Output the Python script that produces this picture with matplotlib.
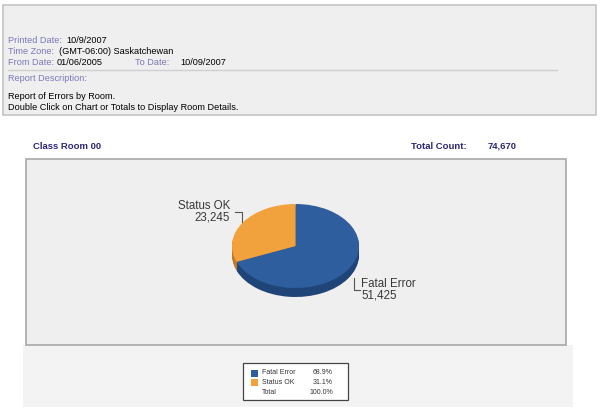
import matplotlib
matplotlib.use("Agg")
import matplotlib.pyplot as plt
from matplotlib.patches import Rectangle

plt.rcParams['font.family'] = ['Liberation Sans', 'DejaVu Sans']

# report data
room = "Class Room 00"
categories = ["Fatal Error", "Status OK"]
counts = [51425, 23245]
colors = ["#2f5e9e", "#f2a23c"]
side_colors = ["#1f4578", "#c07a25"]
header_labels = ["Printed Date:", "Time Zone:", "From Date:"]
header_values = ["10/9/2007", "(GMT-06:00) Saskatchewan", "01/06/2005"]
to_date = "10/09/2007"
description = ["Report of Errors by Room.",
               "Double Click on Chart or Totals to Display Room Details."]

total = sum(counts)
pcts = [100.0 * c / total for c in counts]

W, H = 605, 413
fig = plt.figure(figsize=(W / 100, H / 100), dpi=100)
fig.patch.set_facecolor("white")

# page axes in pixel coordinates
page = fig.add_axes([0, 0, 1, 1])
page.set_xlim(0, W)
page.set_ylim(H, 0)
page.axis("off")

lab_col = "#7a78b8"
navy = "#2b2777"
hdr = dict(fontsize=6.6, va="baseline")

# header box
page.add_patch(Rectangle((3, 5), 593, 110, fc="#efefef", ec="#c4c4c4", lw=1.2))
ys = [43, 54, 65]
xs = [66, 59, 57]
for y, lab, x, val in zip(ys, header_labels, xs, header_values):
    page.text(8, y, lab, color=lab_col, **hdr)
    page.text(x, y, val, color="black", **hdr)
page.text(135, 65, "To Date:", color=lab_col, **hdr)
page.text(180, 65, to_date, color="black", **hdr)
page.plot([8, 557], [69.5, 69.5], color="#cfcfcf", lw=1)
page.text(8, 81, "Report Description:", color=lab_col, **hdr)
page.text(8, 99, description[0], color="black", **hdr)
page.text(8, 110, description[1], color="black", **hdr)

# chart title row
ttl = dict(fontsize=6.8, color=navy, weight="bold", va="baseline")
page.text(33, 149, room, **ttl)
page.text(411, 149, "Total Count:", **ttl)
page.text(488, 149, f"{total:,}", **ttl)

# lower legend panel and chart box
page.add_patch(Rectangle((23, 345), 550, 62, fc="#f3f3f3", ec="none"))
page.add_patch(Rectangle((26, 159), 540, 186, fc="#efefef", ec="#a8a8a8", lw=1.2))

# pie: face ellipse, with a darker extruded side drawn underneath
px0, px1 = 232, 359
face_top, face_bot = 204, 288
depth = 9
start = 90 - 360.0 * counts[0] / total
for d in range(depth, 0, -1):
    sax = fig.add_axes([px0 / W, 1 - (face_bot + d) / H,
                        (px1 - px0) / W, (face_bot - face_top) / H])
    sax.pie(counts, colors=side_colors, startangle=start, counterclock=True,
            wedgeprops=dict(linewidth=0))
    sax.set_aspect("auto")
    sax.set_xlim(-1, 1)
    sax.set_ylim(-1, 1)
    sax.axis("off")
pax = fig.add_axes([px0 / W, 1 - face_bot / H,
                    (px1 - px0) / W, (face_bot - face_top) / H])
pax.pie(counts, colors=colors, startangle=start, counterclock=True,
        wedgeprops=dict(linewidth=0))
pax.set_aspect("auto")
pax.set_xlim(-1, 1)
pax.set_ylim(-1, 1)
pax.axis("off")

# slice labels with bracket leaders
lbl = dict(fontsize=8.3, color="#383838", linespacing=1.0)
page.text(230, 212, f"{categories[1]}\n{counts[1]:,}", ha="right", va="center", **lbl)
page.plot([235, 242, 242], [212, 212, 225], color="#555555", lw=0.8)
page.text(361, 290, f"{categories[0]}\n{counts[0]:,}", ha="left", va="center", **lbl)
page.plot([354, 354, 360], [278, 290, 290], color="#555555", lw=0.8)

# totals legend
page.add_patch(Rectangle((243, 363), 105, 37, fc="white", ec="#444444", lw=0.9))
rows = [373, 382.5, 392]
leg = dict(fontsize=5, color="#333333", va="center")
for y, name, p, c in zip(rows, categories, pcts, colors):
    page.add_patch(Rectangle((251, y - 3.5), 7, 7, fc=c, ec="none"))
    page.text(262, y, name, **leg)
    page.text(333, y, f"{p:.1f}%", ha="right", **leg)
page.text(262, rows[2], "Total", **leg)
page.text(333, rows[2], f"{sum(pcts):.1f}%", ha="right", **leg)

fig.savefig("out.png", dpi=100)
